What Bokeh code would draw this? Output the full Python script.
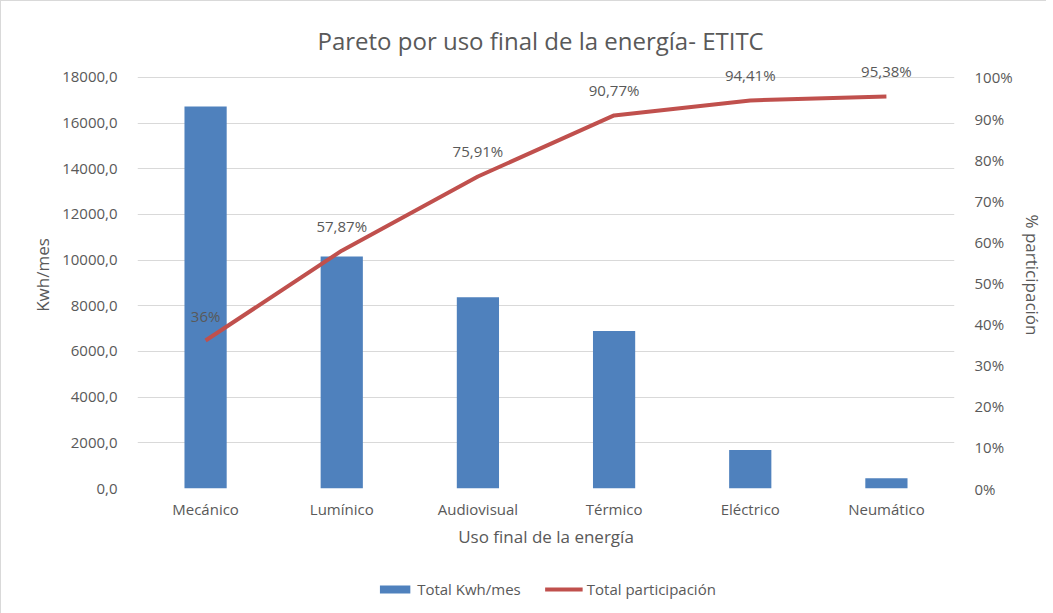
from bokeh.plotting import figure
from bokeh.layouts import column
from bokeh.models import (FactorRange, Range1d, LinearAxis, NumeralTickFormatter,
                          CustomJSTickFormatter, FixedTicker, Legend, ColumnDataSource)
from bokeh.core.properties import value
from bokeh.embed import file_html
from bokeh.resources import INLINE

categories = ["Mecánico", "Lumínico", "Audiovisual", "Térmico", "Eléctrico", "Neumático"]
kwh_mes = [16730, 10160, 8380, 6900, 1690, 450]
participacion = [0.36, 0.5787, 0.7591, 0.9077, 0.9441, 0.9538]
part_labels = ["36%", "57,87%", "75,91%", "90,77%", "94,41%", "95,38%"]
left_ticks = [0, 2000, 4000, 6000, 8000, 10000, 12000, 14000, 16000, 18000]
right_ticks = [0, 0.1, 0.2, 0.3, 0.4, 0.5, 0.6, 0.7, 0.8, 0.9, 1.0]
series_names = ["Total Kwh/mes", "Total participación"]

FONT = "Open Sans"
TXT = "#595959"
BAR_C = "#4F81BD"
LINE_C = "#C0504D"

src = ColumnDataSource(dict(cat=categories, kwh=kwh_mes, part=participacion, lab=part_labels))

TOP = 18700  # a little headroom above the top tick so the data labels are not clipped
p = figure(width=1045, height=563, x_range=FactorRange(factors=categories, range_padding=0),
           y_range=Range1d(0, TOP), output_backend="svg", toolbar_location=None,
           min_border_left=136, min_border_right=92, min_border_top=60, min_border_bottom=76)
p.outline_line_color = None
p.extra_y_ranges = {"pct": Range1d(0, TOP / 18000)}

p.title.text = "Pareto por uso final de la energía- ETITC"
p.title.align = "left"
p.title.offset = 180
p.title.text_font = FONT
p.title.text_font_size = "24px"
p.title.text_font_style = "normal"
p.title.text_color = TXT

p.vbar(x="cat", top="kwh", width=0.31, source=src, fill_color=BAR_C, line_color=None)
p.line(x="cat", y="part", source=src, y_range_name="pct", line_color=LINE_C, line_width=4)
p.text(x="cat", y="part", text="lab", source=src, y_range_name="pct",
       text_font=value(FONT), text_font_size="15px", text_color=TXT,
       text_align="center", text_baseline="middle", y_offset=-25)

p.ygrid.grid_line_color = "#D9D9D9"
p.ygrid.ticker = FixedTicker(ticks=left_ticks)
p.xgrid.grid_line_color = None

ya = p.yaxis[0]
ya.ticker = FixedTicker(ticks=left_ticks)
ya.formatter = CustomJSTickFormatter(code="return tick.toFixed(1).replace('.', ',');")
ya.axis_label = "Kwh/mes"

ra = LinearAxis(y_range_name="pct", ticker=FixedTicker(ticks=right_ticks),
                formatter=NumeralTickFormatter(format="0%"), axis_label="% participación")
p.add_layout(ra, "right")

xa = p.xaxis[0]
xa.axis_label = "Uso final de la energía"

for ax in [ya, ra, xa]:
    ax.axis_line_color = None
    ax.major_tick_line_color = None
    ax.minor_tick_line_color = None
    ax.major_label_text_font = FONT
    ax.major_label_text_font_size = "15px"
    ax.major_label_text_color = TXT
    ax.axis_label_text_font = FONT
    ax.axis_label_text_font_size = "17px"
    ax.axis_label_text_font_style = "normal"
    ax.axis_label_text_color = TXT
ya.major_label_standoff = 14
ra.major_label_standoff = 14
xa.major_label_standoff = 4
xa.axis_label_standoff = 3

# legend figure (glyphs sit outside its visible range; only the legend shows)
lg = figure(width=1045, height=50, output_backend="svg", toolbar_location=None,
            x_range=Range1d(0, 1), y_range=Range1d(0, 1), min_border=0)
lg.axis.visible = False
lg.grid.visible = False
lg.outline_line_color = None
r_bar = lg.vbar(x=[-10], top=[-5], bottom=[-6], width=0.1, fill_color=BAR_C, line_color=None)
r_line = lg.line(x=[-10, -9], y=[-5, -5], line_color=LINE_C, line_width=4)
legend = Legend(items=[(series_names[0], [r_bar]), (series_names[1], [r_line])],
                orientation="horizontal", location="center",
                label_text_font=FONT, label_text_font_size="15px", label_text_color=TXT,
                border_line_color=None, background_fill_alpha=0, glyph_width=38,
                glyph_height=10, spacing=24, label_standoff=4)
lg.add_layout(legend)

layout = column(p, lg, spacing=0,
                styles={"border-top": "1px solid #D9D9D9", "border-left": "1px solid #D9D9D9"})
open("out.html", "w").write(file_html(layout, INLINE))
